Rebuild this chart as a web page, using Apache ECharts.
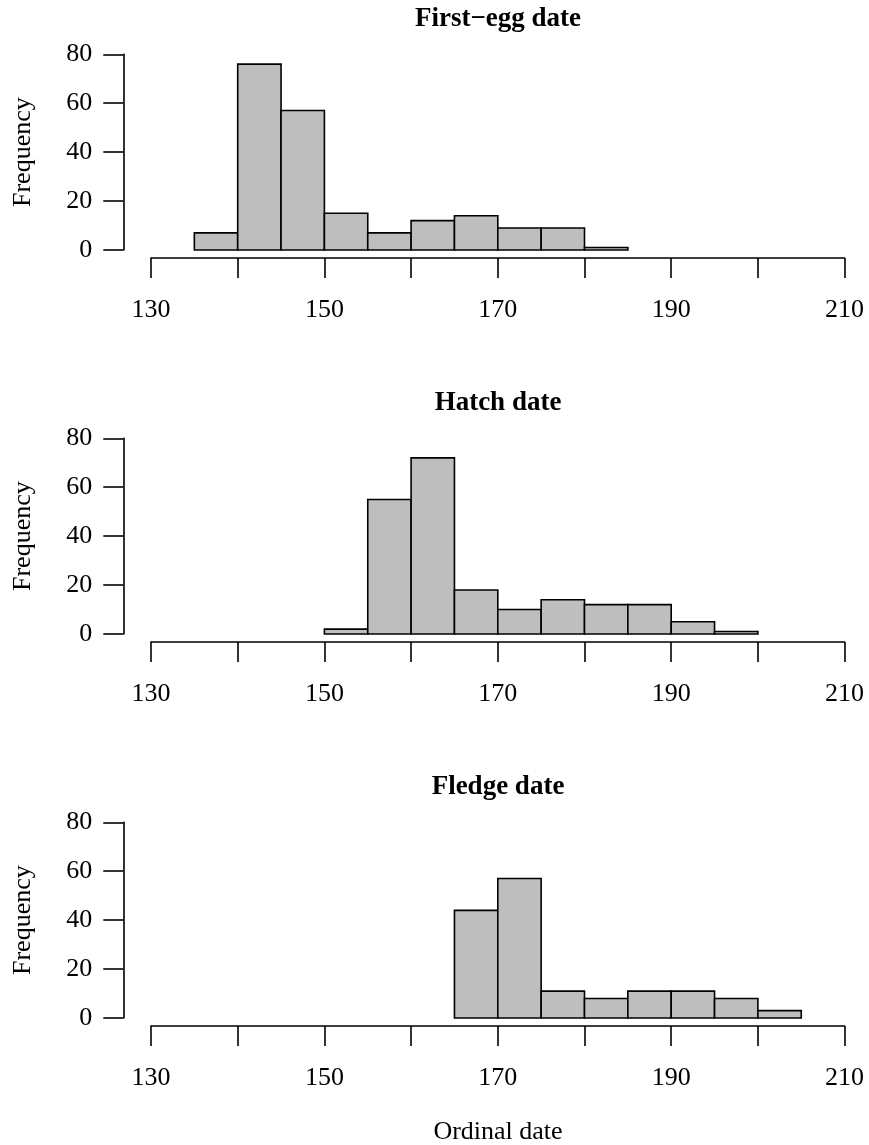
<!DOCTYPE html>
<html lang="en">
<head>
    <meta charset="UTF-8">
    <title>Breeding dates</title>
    <script src="https://cdn.jsdelivr.net/npm/echarts@6.0.0/dist/echarts.min.js"></script>
    <style>
        body { margin: 0; background: #fff; }
    </style>
</head>
<body>
    <div id="box" style="width:869px;height:1145px"></div>
</body>
<script>
    // histogram bins (left edges) and counts, bin width 5 days
    const firstEggBins = [135, 140, 145, 150, 155, 160, 165, 170, 175, 180];
    const firstEggCounts = [7, 76, 57, 15, 7, 12, 14, 9, 9, 1];
    const hatchBins = [150, 155, 160, 165, 170, 175, 180, 185, 190, 195];
    const hatchCounts = [2, 55, 72, 18, 10, 14, 12, 12, 5, 1];
    const fledgeBins = [165, 170, 175, 180, 185, 190, 195, 200];
    const fledgeCounts = [44, 57, 11, 8, 11, 11, 8, 3];
    const binWidth = 5;

    const panelTitles = ["First\u2212egg date", "Hatch date", "Fledge date"];
    const xTicks = [130, 140, 150, 160, 170, 180, 190, 200, 210];
    const xLabelled = [130, 150, 170, 190, 210];
    const yTicks = [0, 20, 40, 60, 80];

    const font = "'Liberation Serif', 'Times New Roman', serif";
    const lw = 1.6;
    const panels = [
        { bins: firstEggBins, counts: firstEggCounts },
        { bins: hatchBins, counts: hatchCounts },
        { bins: fledgeBins, counts: fledgeCounts },
    ];

    var chart = echarts.init(document.getElementById('box'));

    var grids = [], xAxes = [], yAxes = [], series = [], texts = [];
    panels.forEach((p, i) => {
        let top = 54.3 + 384 * i;
        grids.push({ left: 151, width: 693.6, top: top, height: 195.7 });
        xAxes.push({
            gridIndex: i, type: 'value', min: xTicks[0], max: xTicks[xTicks.length - 1], interval: 10,
            offset: 8,
            splitLine: { show: false },
            axisLine: { show: true, onZero: false, lineStyle: { color: '#000', width: lw } },
            axisTick: { show: true, length: 20, lineStyle: { color: '#000', width: lw } },
            axisLabel: {
                margin: 39, color: '#000', fontSize: 26, fontFamily: font,
                formatter: v => xLabelled.indexOf(v) >= 0 ? String(v) : ''
            },
        });
        yAxes.push({
            gridIndex: i, type: 'value', min: yTicks[0], max: yTicks[yTicks.length - 1], interval: 20,
            offset: 27.7,
            name: 'Frequency', nameLocation: 'middle', nameGap: 87,
            nameTextStyle: { color: '#000', fontSize: 26, fontFamily: font },
            splitLine: { show: false },
            axisLine: { show: true, onZero: false, lineStyle: { color: '#000', width: lw } },
            axisTick: { show: true, length: 20, lineStyle: { color: '#000', width: lw } },
            axisLabel: { margin: 31, color: '#000', fontSize: 26, fontFamily: font },
        });
        series.push({
            type: 'custom',
            xAxisIndex: i, yAxisIndex: i,
            encode: { x: [0, 1], y: 2 },
            data: p.bins.map((b, k) => [b, b + binWidth, p.counts[k]]),
            renderItem: function (params, api) {
                let p0 = api.coord([api.value(0), api.value(2)]);
                let p1 = api.coord([api.value(1), 0]);
                return {
                    type: 'rect',
                    shape: { x: p0[0], y: p0[1], width: p1[0] - p0[0], height: p1[1] - p0[1] },
                    style: { fill: '#BEBEBE', stroke: '#000', lineWidth: lw },
                };
            },
        });
        texts.push({
            type: 'text',
            style: {
                text: panelTitles[i], x: 498, y: 19 + 384 * i, align: 'center', verticalAlign: 'middle',
                font: "bold 27px " + font, fill: '#000'
            },
        });
    });
    texts.push({
        type: 'text',
        style: {
            text: 'Ordinal date', x: 498, y: 1132, align: 'center', verticalAlign: 'middle',
            font: "26px " + font, fill: '#000'
        },
    });

    chart.setOption({
        backgroundColor: '#fff',
        animation: false,
        grid: grids,
        xAxis: xAxes,
        yAxis: yAxes,
        series: series,
        graphic: texts,
    });
</script>
</html>
